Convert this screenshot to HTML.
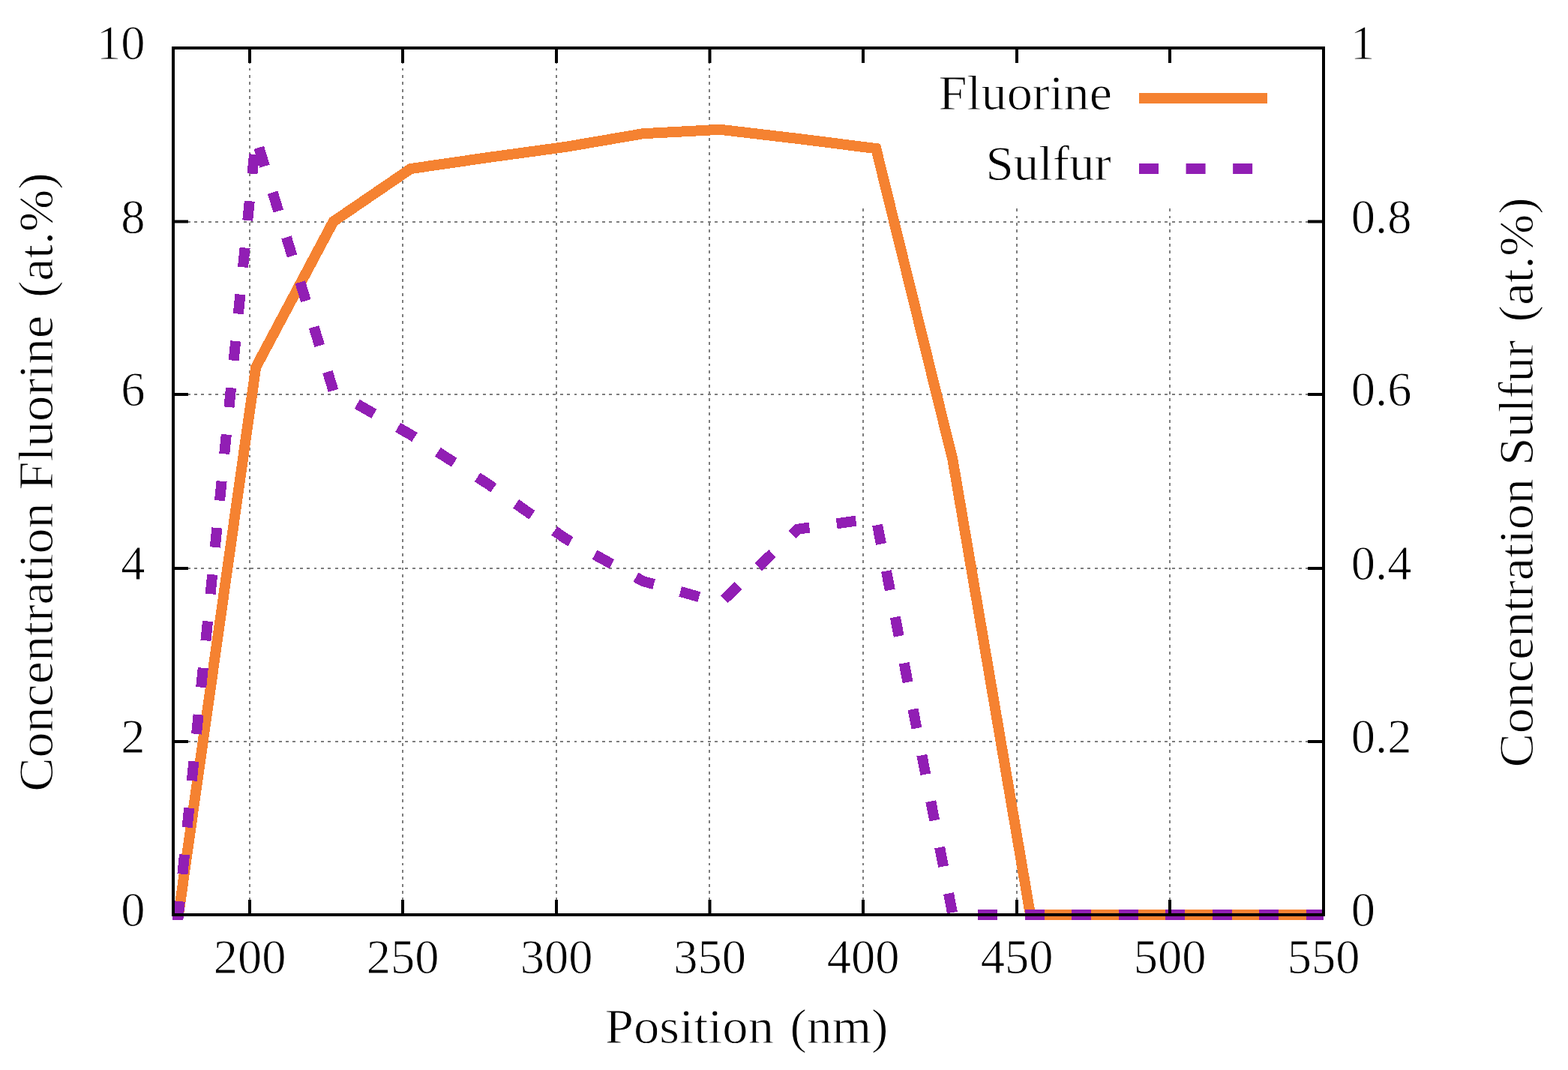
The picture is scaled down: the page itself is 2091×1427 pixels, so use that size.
<!DOCTYPE html>
<html lang="en">
<head>
<meta charset="utf-8">
<title>Concentration of Fluorine and Sulfur versus Position</title>
<style>
html, body { margin: 0; padding: 0; background: #ffffff; }
body { width: 2091px; height: 1427px; overflow: hidden; }
svg { display: block; }
text { font-family: "Liberation Serif", "DejaVu Serif", serif; fill: #000000; stroke: #ffffff; stroke-width: 0.9px; stroke-linejoin: round; }
</style>
</head>
<body>
<svg width="2091" height="1427" viewBox="0 0 2091 1427">
<rect x="0" y="0" width="2091" height="1427" fill="#ffffff"/>

<g stroke="#7d7d7d" stroke-width="2" stroke-dasharray="3.9 5.48" fill="none" shape-rendering="crispEdges">
<line x1="230.9" y1="989" x2="1765.0" y2="989"/>
<line x1="230.9" y1="758" x2="1765.0" y2="758"/>
<line x1="230.9" y1="526" x2="1765.0" y2="526"/>
<line x1="230.9" y1="296" x2="1765.0" y2="296"/>
<line x1="333" y1="1220.1" x2="333" y2="64.0"/>
<line x1="537" y1="1220.1" x2="537" y2="64.0"/>
<line x1="742" y1="1220.1" x2="742" y2="64.0"/>
<line x1="946" y1="1220.1" x2="946" y2="64.0"/>
<line x1="1151" y1="1220.1" x2="1151" y2="276.6"/>
<line x1="1356" y1="1220.1" x2="1356" y2="276.6"/>
<line x1="1560" y1="1220.1" x2="1560" y2="276.6"/>
</g>
<polyline points="230.00,1220.00 238.00,1220.00 341.25,489.66 444.50,295.52 547.75,225.03 651.00,210.01 754.25,195.91 857.50,178.23 960.75,172.80 1064.00,184.93 1168.25,198.10 1270.50,613.31 1374.05,1220.00 1765.00,1220.00" fill="none" stroke="#f58231" stroke-width="14" stroke-linejoin="miter" stroke-miterlimit="10" shape-rendering="crispEdges"/>
<polyline points="230.00,1220.00 238.00,1220.00 341.25,183.43 444.50,520.86 547.75,579.80 651.00,645.67 754.25,718.47 857.50,775.09 960.75,803.98 1064.00,705.76 1168.25,690.74 1270.50,1220.00 1374.05,1220.00 1765.00,1220.00" fill="none" stroke="#911eb4" stroke-width="14" stroke-linejoin="miter" stroke-miterlimit="10" stroke-dasharray="26 36.57" stroke-dashoffset="0" shape-rendering="crispEdges"/>
<line x1="1519" y1="131" x2="1690" y2="131" stroke="#f58231" stroke-width="14"/>
<line x1="1519" y1="225" x2="1690" y2="225" stroke="#911eb4" stroke-width="14" stroke-dasharray="26 36.57"/>
<g stroke="#000000" stroke-width="4" fill="none">
<line x1="333" y1="1220.0" x2="333" y2="1200.0"/>
<line x1="333" y1="64.0" x2="333" y2="84.0"/>
<line x1="537" y1="1220.0" x2="537" y2="1200.0"/>
<line x1="537" y1="64.0" x2="537" y2="84.0"/>
<line x1="742" y1="1220.0" x2="742" y2="1200.0"/>
<line x1="742" y1="64.0" x2="742" y2="84.0"/>
<line x1="946.5" y1="1220.0" x2="946.5" y2="1200.0"/>
<line x1="946.5" y1="64.0" x2="946.5" y2="84.0"/>
<line x1="1151" y1="1220.0" x2="1151" y2="1200.0"/>
<line x1="1151" y1="64.0" x2="1151" y2="84.0"/>
<line x1="1356" y1="1220.0" x2="1356" y2="1200.0"/>
<line x1="1356" y1="64.0" x2="1356" y2="84.0"/>
<line x1="1560" y1="1220.0" x2="1560" y2="1200.0"/>
<line x1="1560" y1="64.0" x2="1560" y2="84.0"/>
<line x1="231.0" y1="989" x2="251.0" y2="989"/>
<line x1="1765.0" y1="989" x2="1744.0" y2="989"/>
<line x1="231.0" y1="758" x2="251.0" y2="758"/>
<line x1="1765.0" y1="758" x2="1744.0" y2="758"/>
<line x1="231.0" y1="526" x2="251.0" y2="526"/>
<line x1="1765.0" y1="526" x2="1744.0" y2="526"/>
<line x1="231.0" y1="295.5" x2="251.0" y2="295.5"/>
<line x1="1765.0" y1="295.5" x2="1744.0" y2="295.5"/>
<rect x="231.0" y="64.0" width="1534.0" height="1156.0"/>
</g>
<text transform="translate(193.5,1235.4)" text-anchor="end" font-size="64.5px">0</text>
<text transform="translate(193.5,1004.4)" text-anchor="end" font-size="64.5px">2</text>
<text transform="translate(193.5,773.4)" text-anchor="end" font-size="64.5px">4</text>
<text transform="translate(193.5,541.4)" text-anchor="end" font-size="64.5px">6</text>
<text transform="translate(193.5,310.9)" text-anchor="end" font-size="64.5px">8</text>
<text transform="translate(193.5,79.4)" text-anchor="end" font-size="64.5px">10</text>
<text transform="translate(1801.8,1235.4)" text-anchor="start" font-size="64.5px">0</text>
<text transform="translate(1801.8,1004.4)" text-anchor="start" font-size="64.5px">0.2</text>
<text transform="translate(1801.8,773.4)" text-anchor="start" font-size="64.5px">0.4</text>
<text transform="translate(1801.8,541.4)" text-anchor="start" font-size="64.5px">0.6</text>
<text transform="translate(1801.8,310.9)" text-anchor="start" font-size="64.5px">0.8</text>
<text transform="translate(1801,79.4)" text-anchor="start" font-size="64.5px">1</text>
<text transform="translate(333,1297.7)" text-anchor="middle" font-size="64.5px">200</text>
<text transform="translate(537,1297.7)" text-anchor="middle" font-size="64.5px">250</text>
<text transform="translate(742,1297.7)" text-anchor="middle" font-size="64.5px">300</text>
<text transform="translate(946.5,1297.7)" text-anchor="middle" font-size="64.5px">350</text>
<text transform="translate(1151,1297.7)" text-anchor="middle" font-size="64.5px">400</text>
<text transform="translate(1356,1297.7)" text-anchor="middle" font-size="64.5px">450</text>
<text transform="translate(1560,1297.7)" text-anchor="middle" font-size="64.5px">500</text>
<text transform="translate(1765,1297.7)" text-anchor="middle" font-size="64.5px">550</text>
<text transform="translate(0,1391)" font-size="64.5px"><tspan x="806.84" textLength="225.17" lengthAdjust="spacingAndGlyphs">Position</tspan> <tspan x="1053.57" textLength="130.87" lengthAdjust="spacingAndGlyphs">(nm)</tspan></text>
<text transform="translate(0,146.3)" font-size="64.5px"><tspan x="1251.56" textLength="231.57" lengthAdjust="spacingAndGlyphs">Fluorine</tspan></text>
<text transform="translate(0,240)" font-size="64.5px"><tspan x="1314.52" textLength="167.18" lengthAdjust="spacingAndGlyphs">Sulfur</tspan></text>
<text transform="translate(70.2,0) rotate(-90)" font-size="64.5px"><tspan x="-1055.86" textLength="385.46" lengthAdjust="spacingAndGlyphs">Concentration</tspan> <tspan x="-653.66" textLength="233.01" lengthAdjust="spacingAndGlyphs">Fluorine</tspan> <tspan x="-397.14" textLength="166.77" lengthAdjust="spacingAndGlyphs">(at.%)</tspan></text>
<text transform="translate(2043.8,0) rotate(-90)" font-size="64.5px"><tspan x="-1023.56" textLength="385.36" lengthAdjust="spacingAndGlyphs">Concentration</tspan> <tspan x="-620.67" textLength="166.87" lengthAdjust="spacingAndGlyphs">Sulfur</tspan> <tspan x="-429.43" textLength="166.15" lengthAdjust="spacingAndGlyphs">(at.%)</tspan></text>
</svg>
</body>
</html>
